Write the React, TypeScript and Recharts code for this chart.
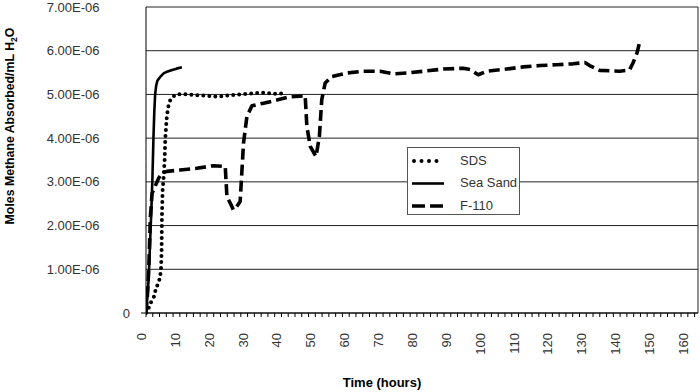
import React from 'react';
import { LineChart, Line, XAxis, YAxis, CartesianGrid, ReferenceLine, Legend } from 'recharts';

// Time (hours), methane absorbed (x 1E-06 moles/mL H2O)
const sdsPoints: [number, number][] = [
  [0, 0], [0.8, 0.12], [1.5, 0.25], [2.3, 0.36], [3.0, 0.58], [3.8, 0.7], [4.4, 0.95],
  [4.6, 1.4], [4.7, 2.2], [4.9, 2.8], [5.2, 3.1], [5.5, 3.5], [5.7, 4.0], [6.1, 4.45],
  [6.5, 4.7], [7.2, 4.88], [8.6, 4.99], [10.1, 5.01], [12, 5.0], [15, 4.98], [18, 4.97],
  [21, 4.95], [24.9, 4.98], [28.8, 5.01], [31, 5.02], [33.7, 5.04], [36, 5.03], [38.6, 5.01],
  [41.5, 5.03],
];

const seaSandPoints: [number, number][] = [
  [0, 0], [0.4, 0.35], [0.8, 0.8], [1.2, 1.6], [1.6, 2.4], [1.9, 3.1], [2.2, 4.0],
  [2.45, 4.6], [2.7, 5.0], [3.0, 5.2], [3.4, 5.32], [4.2, 5.4], [5.2, 5.48], [6.2, 5.52],
  [7.7, 5.56], [9.0, 5.59], [10.6, 5.62],
];

const f110Points: [number, number][] = [
  [0, 0], [0.5, 0.5], [0.9, 1.2], [1.3, 2.2], [1.8, 2.74], [2.7, 2.9], [3.7, 3.08],
  [4.7, 3.2], [6.2, 3.24], [10.1, 3.27], [15, 3.31], [19.9, 3.37], [23.4, 3.35],
  [23.9, 2.66], [24.9, 2.51], [25.8, 2.36], [26.5, 2.4], [27.8, 2.55], [28.8, 3.89],
  [29.8, 4.5], [31.3, 4.74], [34.7, 4.8], [38.6, 4.87], [42.1, 4.94], [47, 4.97],
  [47.5, 4.27], [48.5, 3.81], [50.2, 3.58], [51.2, 4.04], [51.9, 4.88], [52.9, 5.26],
  [54.9, 5.41], [59.3, 5.49], [64.2, 5.53], [69.1, 5.53], [73, 5.47], [77, 5.49],
  [81.9, 5.53], [87.8, 5.58], [93.7, 5.6], [95.7, 5.57], [98.1, 5.45], [100.6, 5.53],
  [106.5, 5.58], [111.4, 5.63], [116.3, 5.66], [121.2, 5.68], [126.1, 5.7], [129.6, 5.73],
  [131, 5.66], [134, 5.55], [139.9, 5.53], [142.8, 5.56], [143.8, 5.72], [145, 5.95],
  [145.8, 6.21],
];

const yTicks = [0, 1, 2, 3, 4, 5, 6, 7];
const xTickLabels = [0, 10, 20, 30, 40, 50, 60, 70, 80, 90, 100, 110, 120, 130, 140, 150, 160];
const xMax = 163;
const xMinorStep = 2;
const xMinorTicks = Array.from({ length: Math.floor(xMax / xMinorStep) + 1 }, (_, i) => i * xMinorStep);

const seriesNames = ['SDS', 'Sea Sand', 'F-110'];

const FONT = '"Liberation Sans", Arial, sans-serif';

const toRows = (pts: [number, number][]) => pts.map(([t, v]) => ({ t, v }));

const seriesStyle = [
  { width: 4, dash: '0 6', cap: 'round' as const, legendDash: '0 7.5' },
  { width: 2.6, dash: undefined, cap: 'butt' as const, legendDash: undefined },
  { width: 3.6, dash: '11 5', cap: 'butt' as const, legendDash: '13 5' },
];

const YTick = (props: any) => {
  const { x, y, payload } = props;
  const v = payload.value as number;
  if (v === 0) {
    return (
      <g>
        <line x1={x - 5} x2={x} y1={y} y2={y} stroke="#000" strokeWidth={1} />
        <text x={x - 16} y={y} dy="0.35em" textAnchor="end" fontSize={13} fontFamily={FONT} fill="#333">0</text>
      </g>
    );
  }
  return (
    <text x={x - 46.5} y={y} dy="0.35em" textAnchor="end" fontSize={13} fontFamily={FONT} fill="#333">
      {v.toFixed(2)}E-06
    </text>
  );
};

const XTick = (props: any) => {
  const { x, y, payload } = props;
  const v = payload.value as number;
  const showLabel = xTickLabels.includes(v);
  const ly = y + 20;
  return (
    <g>
      <line x1={x} x2={x} y1={y} y2={y + 4} stroke="#000" strokeWidth={1} />
      {showLabel && (
        <text
          x={x}
          y={ly}
          transform={`rotate(-90 ${x} ${ly})`}
          textAnchor="end"
          fontSize={13}
          fontFamily={FONT}
          fill="#333"
        >
          {v}
        </text>
      )}
    </g>
  );
};

const renderLegend = () => {
  const rowsY = [12, 34.5, 57];
  return (
    <div
      style={{
        width: 113,
        height: 68,
        boxSizing: 'border-box',
        border: '1px solid #555',
        background: '#fff',
      }}
    >
      <svg width={111} height={66} style={{ display: 'block' }}>
        {seriesNames.map((name, i) => {
          const st = seriesStyle[i];
          const cy = rowsY[i];
          return (
            <g key={name}>
              <line
                x1={i === 0 ? 6 : 4}
                x2={36}
                y1={cy + 1}
                y2={cy + 1}
                stroke="#000"
                strokeWidth={st.width}
                strokeDasharray={st.legendDash}
                strokeLinecap={st.cap}
              />
              <text x={52} y={cy} dy="0.35em" fontSize={13} fontFamily={FONT} fill="#333">
                {name}
              </text>
            </g>
          );
        })}
      </svg>
    </div>
  );
};

const YTitle = () => (
  <text
    x={14}
    y={126}
    transform="rotate(-90 14 126)"
    textAnchor="middle"
    fontSize={12.3}
    fontWeight="bold"
    fontFamily={FONT}
    fill="#000"
  >
    Moles Methane Absorbed/mL H
    <tspan fontSize={8.5} dy={3}>2</tspan>
    <tspan dy={-3}>O</tspan>
  </text>
);

const XTitle = () => (
  <text x={382} y={387} textAnchor="middle" fontSize={13} fontWeight="bold" fontFamily={FONT} fill="#000">
    Time (hours)
  </text>
);

export default function App() {
  const allSeries = [sdsPoints, seaSandPoints, f110Points];
  return (
    <div style={{ position: 'absolute', left: 0, top: 0, width: 700, height: 392, background: '#fff' }}>
      <LineChart width={700} height={392} margin={{ top: 7, right: 2, left: 0, bottom: 0 }}>
        <CartesianGrid horizontal vertical={false} stroke="#222" strokeWidth={1} />
        <XAxis
          dataKey="t"
          type="number"
          domain={[0, xMax]}
          ticks={xMinorTicks}
          interval={0}
          allowDataOverflow
          height={79}
          tickSize={0}
          tickMargin={0}
          tickLine={false}
          axisLine={{ stroke: '#000', strokeWidth: 1 }}
          tick={<XTick />}
          label={{ content: () => <XTitle /> }}
        />
        <YAxis
          type="number"
          domain={[0, 7]}
          ticks={yTicks}
          interval={0}
          width={146}
          tickSize={0}
          tickMargin={0}
          tickLine={false}
          axisLine={{ stroke: '#000', strokeWidth: 1 }}
          tick={<YTick />}
          label={{ content: () => <YTitle /> }}
        />
        <ReferenceLine x={xMax} stroke="#222" strokeWidth={1} />
        {allSeries.map((pts, i) => (
          <Line
            key={seriesNames[i]}
            name={seriesNames[i]}
            data={toRows(pts)}
            dataKey="v"
            type="linear"
            stroke="#000"
            strokeWidth={seriesStyle[i].width}
            strokeDasharray={seriesStyle[i].dash}
            strokeLinecap={seriesStyle[i].cap}
            strokeLinejoin="round"
            dot={false}
            activeDot={false}
            isAnimationActive={false}
          />
        ))}
        <Legend
          layout="vertical"
          align="center"
          verticalAlign="middle"
          content={renderLegend}
          wrapperStyle={{ left: 407, top: 147, width: 113, height: 68 }}
        />
      </LineChart>
    </div>
  );
}
